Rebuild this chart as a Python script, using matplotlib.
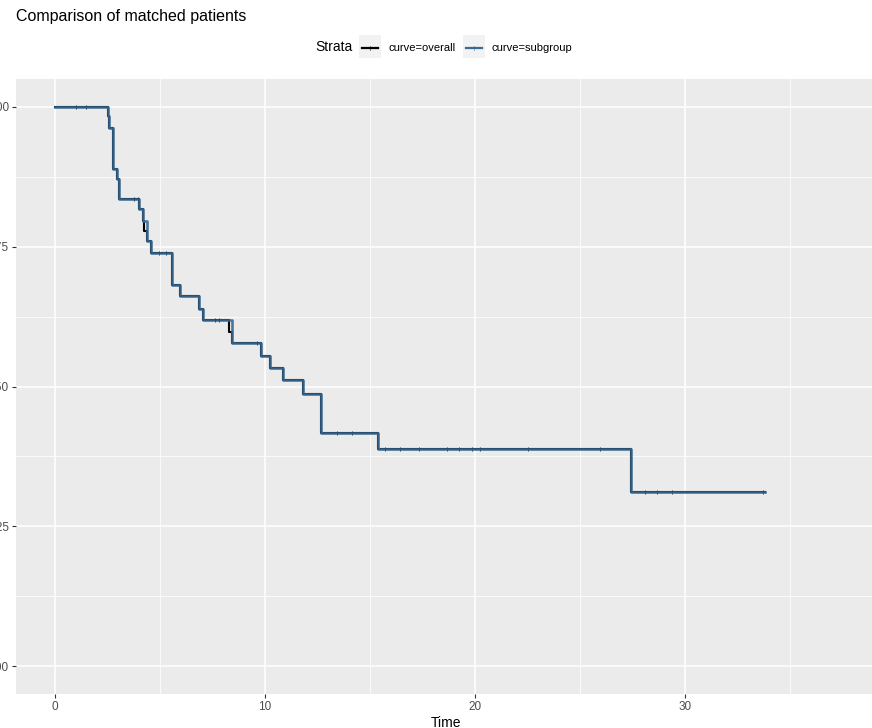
import numpy as np
import matplotlib
matplotlib.use("Agg")
import matplotlib.pyplot as plt
from matplotlib.lines import Line2D
from matplotlib.patches import Rectangle

plt.rcParams['font.family'] = ['Liberation Sans', 'DejaVu Sans']

# Kaplan-Meier step estimates (time, survival probability after the event)
overall_time = [0, 2.51, 2.59, 2.78, 2.97, 3.06, 4.02, 4.17, 4.24, 4.40, 4.56,
                5.56, 5.95, 6.87, 7.06, 8.30, 8.41, 9.81, 10.24, 10.84, 11.83,
                12.67, 15.37, 27.43, 33.80]
overall_surv = [1.0, 0.983, 0.963, 0.889, 0.871, 0.835, 0.817, 0.796, 0.778,
                0.760, 0.739, 0.682, 0.661, 0.639, 0.619, 0.598, 0.577, 0.555,
                0.533, 0.511, 0.487, 0.417, 0.389, 0.311, 0.311]

subgroup_time = [0, 2.51, 2.59, 2.78, 2.97, 3.06, 4.02, 4.17, 4.40, 4.56,
                 5.56, 5.95, 6.87, 7.06, 8.41, 9.81, 10.24, 10.84, 11.83,
                 12.67, 15.37, 27.43, 33.80]
subgroup_surv = [1.0, 0.983, 0.963, 0.889, 0.871, 0.835, 0.817, 0.796,
                 0.760, 0.739, 0.682, 0.661, 0.639, 0.619, 0.577, 0.555,
                 0.533, 0.511, 0.487, 0.417, 0.389, 0.311, 0.311]

# censored observations
censor_time = [0.98, 1.46, 3.76, 3.97, 4.95, 5.29, 7.62, 7.82, 9.60, 13.44,
               14.16, 15.71, 16.43, 17.35, 18.68, 19.25, 19.84, 20.24, 22.54,
               25.95, 28.10, 28.65, 29.37, 33.73]

x_ticks = [0, 10, 20, 30]
y_ticks = [0.0, 0.25, 0.50, 0.75, 1.0]
y_labels = ['0.00', '0.25', '0.50', '0.75', '1.00']

col_overall = '#000000'
col_sub = '#3A6A94'
panel_bg = '#EBEBEB'


def surv_at(times, surv, t):
    idx = np.searchsorted(times, t, side='right') - 1
    return np.asarray(surv)[idx]


fig = plt.figure(figsize=(8.72, 7.28), dpi=100)
ax = fig.add_axes([16 / 872, 1 - 694 / 728, 860 / 872, 615 / 728])
ax.set_facecolor(panel_bg)

ax.step(overall_time, overall_surv, where='post', color=col_overall, lw=1.5, zorder=3)
ax.plot(censor_time, surv_at(overall_time, overall_surv, censor_time), '|',
        color=col_overall, ms=3.5, mew=0.7, alpha=0.6, zorder=3)
ax.step(subgroup_time, subgroup_surv, where='post', color=col_sub, lw=1.9,
        alpha=0.9, zorder=4)
ax.plot(censor_time, surv_at(subgroup_time, subgroup_surv, censor_time), '|',
        color='#22405C', ms=3.5, mew=0.6, alpha=0.45, zorder=5)

ax.set_xlim(-1.86, 39.1)
ax.set_ylim(-0.05, 1.05)
ax.set_xticks(x_ticks)
ax.set_xticks([5, 15, 25, 35], minor=True)
ax.set_yticks(y_ticks)
ax.set_yticklabels(y_labels)
ax.set_yticks([0.125, 0.375, 0.625, 0.875], minor=True)

ax.grid(which='major', color='white', lw=1.1, zorder=0)
ax.grid(which='minor', color='white', lw=0.55, zorder=0)
ax.set_axisbelow(True)
for s in ax.spines.values():
    s.set_visible(False)
ax.tick_params(which='major', length=3, width=0.8, color='#333333',
               labelcolor='#4D4D4D', labelsize=8.5, pad=2)
ax.tick_params(which='minor', length=0)
ax.set_xlabel('Time', fontsize=10, color='black', labelpad=2)

fig.text(16 / 872, 1 - 21 / 728, 'Comparison of matched patients',
         fontsize=11.5, ha='left', va='baseline')

# legend row across the top
fig.text(315 / 872, 1 - 51 / 728, 'Strata', fontsize=10, ha='left', va='baseline')
keys = [(359, col_overall, 'curve=overall'), (463, col_sub, 'curve=subgroup')]
for kx, kc, lab in keys:
    fig.add_artist(Rectangle((kx / 872, 1 - 58 / 728), 22 / 872, 23 / 728,
                             transform=fig.transFigure, facecolor='#F2F2F2',
                             edgecolor='none'))
    fig.add_artist(Line2D([(kx + 3) / 872, (kx + 19) / 872],
                          [1 - 47.5 / 728, 1 - 47.5 / 728],
                          transform=fig.transFigure, color=kc, lw=1.6))
    fig.add_artist(Line2D([(kx + 11) / 872] * 2,
                          [1 - 45.5 / 728, 1 - 49.5 / 728],
                          transform=fig.transFigure, color=kc, lw=0.6, alpha=0.6))
    fig.text((kx + 29) / 872, 1 - 51 / 728, lab, fontsize=8, ha='left',
             va='baseline')

fig.savefig('out.png', dpi=100)
